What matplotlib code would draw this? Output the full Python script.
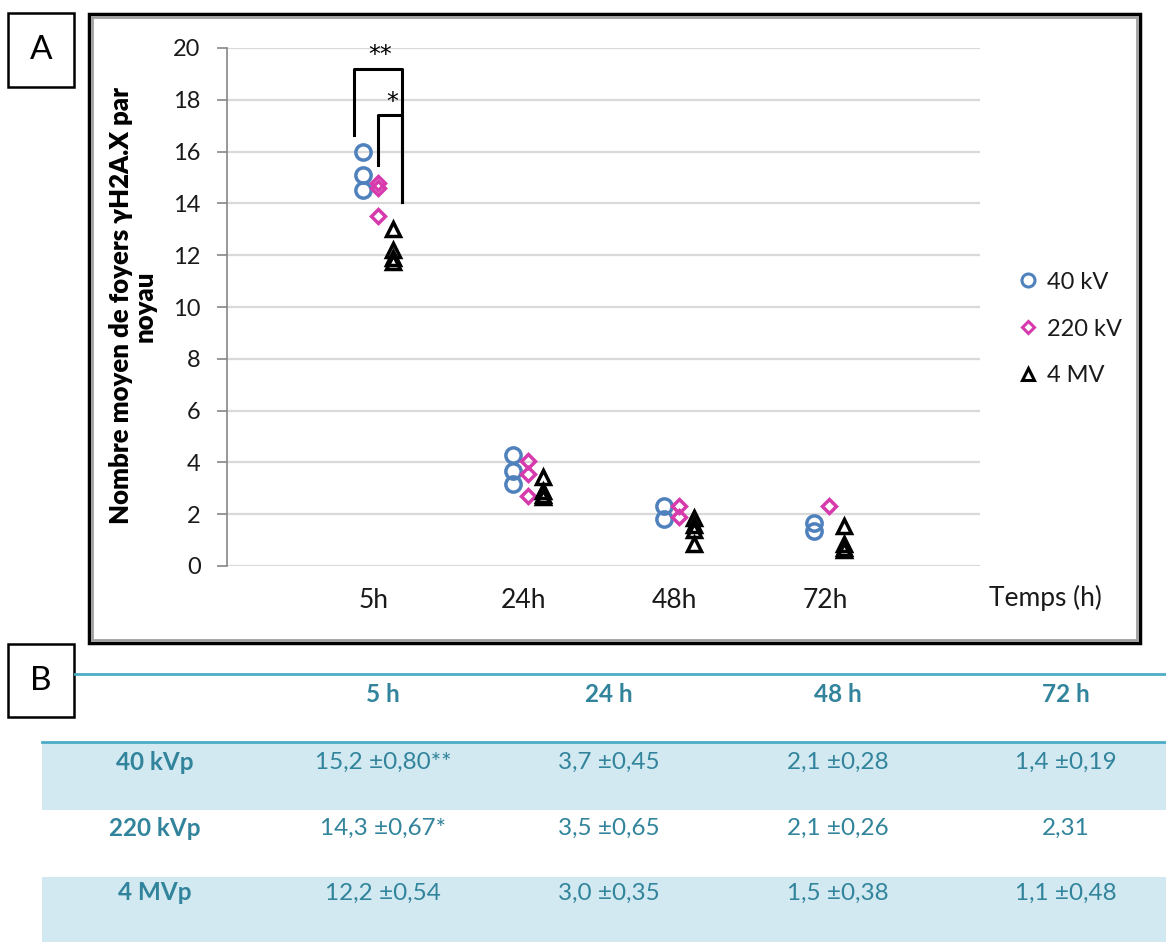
import matplotlib
matplotlib.use('Agg')
import matplotlib.pyplot as plt
from matplotlib.patches import Rectangle
from matplotlib.lines import Line2D

plt.rcParams['font.family'] = ['Lato', 'DejaVu Sans']

# Données du graphique A
temps = ['5h', '24h', '48h', '72h']
pos = [1, 2, 3, 4]
kv40 = [[16.0, 15.1, 14.5], [4.3, 3.65, 3.15], [2.3, 1.8], [1.65, 1.35]]
kv220 = [[14.8, 14.6, 13.5], [4.05, 3.55, 2.7], [2.3, 1.9], [2.3]]
mv4 = [[13.0, 12.2, 11.9, 11.75], [3.45, 2.9, 2.75, 2.65],
       [1.85, 1.6, 1.4, 0.85], [1.55, 0.85, 0.7, 0.6]]
serie_noms = ['40 kV', '220 kV', '4 MV']

# crochets de significativité (x gauche, x droite, y gauche, y haut, y droite)
crochets = [(0.84, 1.16, 16.65, 19.2, 14.05), (1.0, 1.16, 15.5, 17.4, 14.05)]
etoiles = ['**', '*']

# Données du tableau B
col_labels = ['5 h', '24 h', '48 h', '72 h']
row_labels = ['40 kVp', '220 kVp', '4 MVp']
cellules = [['15,2 ±0,80**', '3,7 ±0,45', '2,1 ±0,28', '1,4 ±0,19'],
            ['14,3 ±0,67*', '3,5 ±0,65', '2,1 ±0,26', '2,31'],
            ['12,2 ±0,54', '3,0 ±0,35', '1,5 ±0,38', '1,1 ±0,48']]

W, H = 1166, 942
fig = plt.figure(figsize=(W / 100, H / 100), dpi=100)

def fx(p):
    return p / W

def fy(p):
    return 1 - p / H

ax = fig.add_axes([fx(227), fy(566), fx(980) - fx(227), fy(48) - fy(566)])

bleu = '#4f81bd'
rose = '#d63aac'
noir = '#000000'
styles = [(kv40, 'o', bleu, -0.1, 11), (kv220, 'D', rose, 0.0, 7.5), (mv4, '^', noir, 0.1, 10)]
for data, m, c, dx, ms in styles:
    for p, vals in zip(pos, data):
        ax.plot([p + dx] * len(vals), vals, linestyle='none', marker=m, ms=ms,
                mfc='none', mec=c, mew=2.5, zorder=3)

for (xg, xd, yg, yh, yd), et in zip(crochets, etoiles):
    ax.plot([xg, xg, xd, xd], [yg, yh, yh, yd], color='black', lw=2.2, zorder=4)
    ax.text((xg + xd) / 2 + 0.02, yh + 0.05, et, ha='center', va='bottom', fontsize=17,
            family='DejaVu Sans')

ax.set_xlim(0, 5)
ax.set_ylim(0, 20)
ax.set_yticks(range(0, 21, 2))
ax.set_xticks([p - 0.03 for p in pos])
ax.set_xticklabels(temps, fontsize=19, color='#1a1a1a')
ax.tick_params(axis='x', length=0, pad=16)
ax.tick_params(axis='y', labelsize=17, labelcolor='#1a1a1a', length=7, width=1.2,
               color='#868686', pad=12)
ax.grid(axis='y', color='#d9d9d9', lw=1.6)
ax.set_axisbelow(True)
for s in ['top', 'right', 'bottom']:
    ax.spines[s].set_visible(False)
ax.spines['left'].set_color('#868686')
ax.spines['left'].set_linewidth(1.2)

fig.text(fx(1045), fy(598), 'Temps (h)', ha='center', va='center', fontsize=19, color='#1a1a1a')
fig.text(fx(133), fy(306), 'Nombre moyen de foyers γH2A.X par\nnoyau', rotation=90,
         ha='center', va='center', fontsize=18.5, fontweight='heavy', linespacing=1.0,
         multialignment='center')

poignees = [Line2D([], [], ls='none', marker=m, ms=ms * 0.85, mfc='none', mec=c, mew=2.2)
            for _, m, c, _, ms in styles]
fig.legend(poignees, serie_noms, loc='center left', bbox_to_anchor=(fx(995), fy(329)),
           frameon=False, fontsize=17, handlelength=1.0, handletextpad=0.3,
           labelspacing=1.1, labelcolor='#1a1a1a')

# cadre du graphique
fig.patches.append(Rectangle((fx(89), fy(643)), fx(1140) - fx(89), fy(14) - fy(643),
                             transform=fig.transFigure, fill=False, ec='black', lw=2.5))
fig.patches.append(Rectangle((fx(92), fy(640)), fx(1137) - fx(92), fy(17) - fy(640),
                             transform=fig.transFigure, fill=False, ec='#a0a0a0', lw=2))

# étiquettes A et B
for lettre, (x0, y0, x1, y1) in zip(['A', 'B'], [(8, 13, 74, 87), (8, 644, 74, 717)]):
    fig.patches.append(Rectangle((fx(x0), fy(y1)), fx(x1) - fx(x0), fy(y0) - fy(y1),
                                 transform=fig.transFigure, fill=False, ec='black', lw=1.8))
    fig.text(fx((x0 + x1) / 2), fy((y0 + y1) / 2), lettre, ha='center', va='center', fontsize=24)

# tableau B
teal = '#31849b'
ligne = '#4bacc6'
fond = '#d2e9f1'
x_cols = [155, 383, 609, 838, 1066]
for i, (y0, y1) in enumerate([(742, 810), (810, 877), (877, 942)]):
    if i % 2 == 0:
        fig.patches.append(Rectangle((fx(42), fy(y1)), fx(W) - fx(42), fy(y0) - fy(y1),
                                     transform=fig.transFigure, color=fond, lw=0))
fig.add_artist(Line2D([fx(75), 1], [fy(674), fy(674)], color=ligne, lw=2))
fig.add_artist(Line2D([fx(42), 1], [fy(742), fy(742)], color=ligne, lw=2))

for xc, lab in zip(x_cols[1:], col_labels):
    fig.text(fx(xc), fy(694), lab, ha='center', va='center', fontsize=17.5,
             fontweight='bold', color=teal)
for yc, rl, row in zip([762, 828, 893], row_labels, cellules):
    fig.text(fx(x_cols[0]), fy(yc), rl, ha='center', va='center', fontsize=17.5,
             fontweight='bold', color=teal)
    for xc, v in zip(x_cols[1:], row):
        fig.text(fx(xc), fy(yc), v, ha='center', va='center', fontsize=17.5, color=teal)

fig.savefig('out.png', dpi=100)
